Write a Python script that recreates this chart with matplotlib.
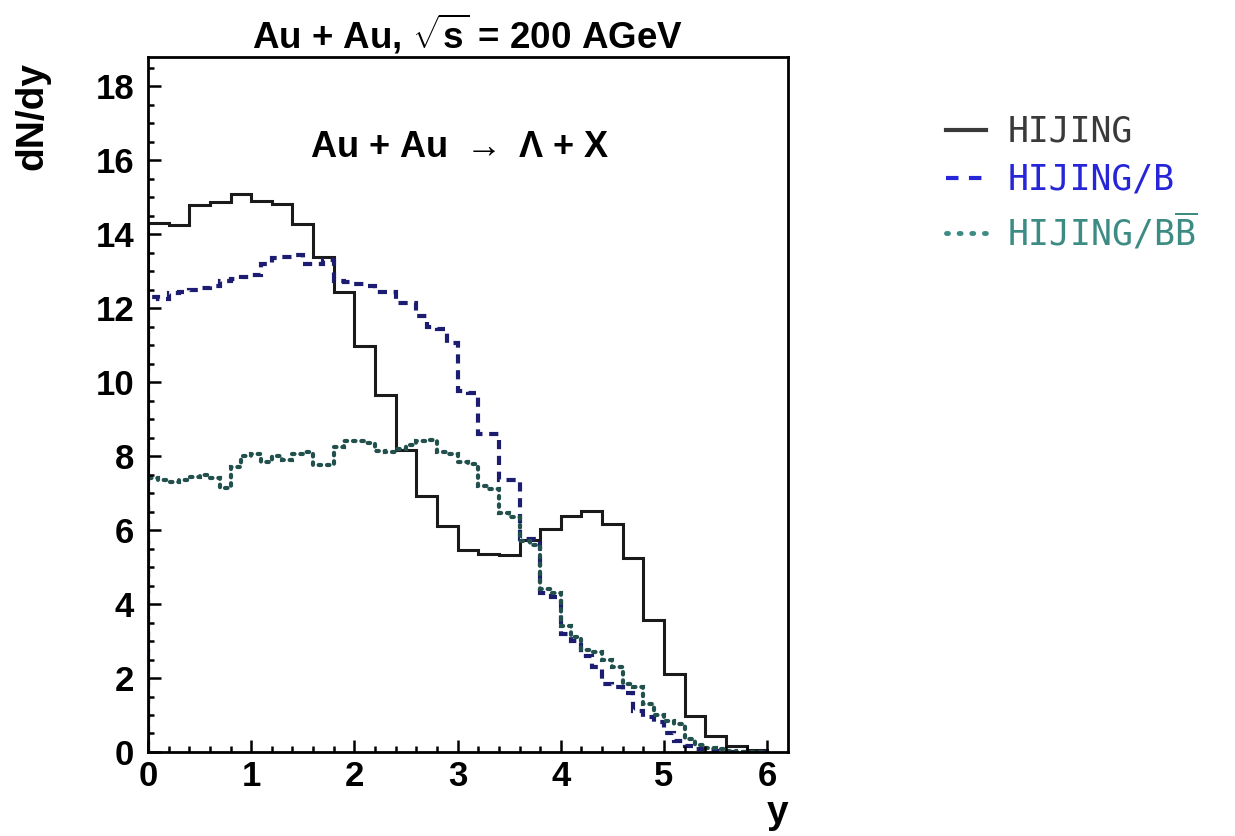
import numpy as np
import matplotlib
matplotlib.use("Agg")
import matplotlib.pyplot as plt
from matplotlib.lines import Line2D

plt.rcParams['font.family'] = ['Liberation Sans', 'DejaVu Sans']
plt.rcParams['font.weight'] = 'bold'
plt.rcParams['mathtext.fontset'] = 'custom'
plt.rcParams['mathtext.rm'] = 'Liberation Sans'
plt.rcParams['mathtext.bf'] = 'Liberation Sans:bold'
plt.rcParams['mathtext.tt'] = 'DejaVu Sans Mono:normal'

# HIJING, bins of 0.2 in y
edges_hijing = np.round(np.arange(0, 6.01, 0.2), 1)
dndy_hijing = [14.3, 14.25, 14.8, 14.87, 15.08, 14.9, 14.83, 14.27, 13.4, 12.43,
               10.97, 9.66, 8.18, 6.91, 6.12, 5.45, 5.35, 5.33, 5.74, 6.03,
               6.37, 6.52, 6.16, 5.24, 3.57, 2.11, 0.96, 0.42, 0.15, 0.05]

# HIJING/B and HIJING/BBbar, bins of 0.1 in y
edges_fine = np.round(np.arange(0, 6.01, 0.1), 1)
dndy_b = [12.3, 12.25, 12.4, 12.45, 12.5, 12.55, 12.6, 12.75, 12.8, 12.85,
          12.9, 13.2, 13.35, 13.4, 13.45, 13.2, 13.2, 13.3, 12.75, 12.7,
          12.65, 12.6, 12.45, 12.45, 12.15, 12.15, 11.8, 11.5, 11.45, 11.05,
          9.75, 9.7, 8.6, 8.6, 7.35, 7.35, 5.75, 5.75, 4.3, 4.2,
          3.2, 3.0, 2.6, 2.3, 1.85, 1.75, 1.6, 1.1, 0.95, 0.8,
          0.5, 0.3, 0.15, 0.08, 0.05, 0.02, 0, 0, 0, 0]
dndy_bb = [7.4, 7.35, 7.3, 7.35, 7.45, 7.5, 7.4, 7.15, 7.7, 8.0,
           8.05, 7.85, 8.0, 7.9, 8.05, 8.1, 7.75, 7.75, 8.25, 8.4,
           8.4, 8.35, 8.15, 8.1, 8.2, 8.3, 8.4, 8.45, 8.1, 8.05,
           7.85, 7.8, 7.2, 7.1, 6.45, 6.35, 5.7, 5.6, 4.4, 4.3,
           3.4, 3.1, 2.75, 2.7, 2.5, 2.3, 1.85, 1.75, 1.3, 1.0,
           0.85, 0.75, 0.35, 0.2, 0.1, 0.08, 0.04, 0, 0, 0]

labels = ['HIJING', 'HIJING/B', r'HIJING/B$\overline{\mathtt{B}}$']
legend_colors = ['#3a3a3a', '#2626d8', '#3d8c84']

fig = plt.figure(figsize=(12.35, 8.36), dpi=100)
ax = fig.add_axes([0.1198, 0.1005, 0.5182, 0.8315])

ax.stairs(dndy_hijing, edges_hijing, color='#1a1a1a', lw=2.2)
ax.stairs(dndy_b, edges_fine, color='#1c1c70', lw=3.0, linestyle=(0, (2.2, 1.6)))
ax.stairs(dndy_bb, edges_fine, color='#22504c', lw=3.0, linestyle=(0, (0.6, 1.4)),
          capstyle='round')

ax.set_xlim(0, 6.2)
ax.set_ylim(0, 18.8)
ax.set_xticks(np.arange(0, 7, 1))
ax.set_xticks(np.arange(0, 6.2, 0.2), minor=True)
ax.set_yticks(np.arange(0, 20, 2))
ax.set_yticks(np.arange(0, 18.8, 0.5), minor=True)
ax.tick_params(which='both', direction='in', top=False, right=False,
               labelsize=25, width=1.8)
ax.tick_params(which='major', length=9)
ax.tick_params(which='minor', length=4.5)
ax.tick_params(axis='y', which='major', pad=10)
ax.tick_params(axis='x', which='major', pad=6)
for s in ax.spines.values():
    s.set_linewidth(2.0)

ax.set_ylabel('dN/dy', fontsize=28, fontweight='bold')
ax.yaxis.set_label_coords(-0.153, 0.915)
ax.set_xlabel('y', fontsize=28, fontweight='bold')
ax.xaxis.set_label_coords(0.984, -0.062)

ax.set_title(r'Au + Au, $\sqrt{\mathbf{s}}$ = 200 AGeV', fontsize=26.5,
             fontweight='bold', pad=5)
ax.text(0.4875, 0.87, r'Au + Au $\rightarrow$ $\Lambda$ + X', transform=ax.transAxes,
        ha='center', va='center', fontsize=26, fontweight='bold')

handles = [Line2D([], [], color=legend_colors[0], lw=3),
           Line2D([], [], color=legend_colors[1], lw=3, linestyle=(0, (3, 2.5))),
           Line2D([], [], color=legend_colors[2], lw=3.5, linestyle=(0, (0.4, 2.2)),
                  dash_capstyle='round')]
leg = fig.legend(handles, labels, loc='upper left', bbox_to_anchor=(0.741, 0.9),
                 frameon=False, handlelength=1.15, handletextpad=0.6,
                 labelspacing=0.4,
                 prop={'family': 'DejaVu Sans Mono', 'size': 25, 'weight': 'normal'})
for t, c in zip(leg.get_texts(), legend_colors):
    t.set_color(c)

fig.savefig('out.png', dpi=100)
